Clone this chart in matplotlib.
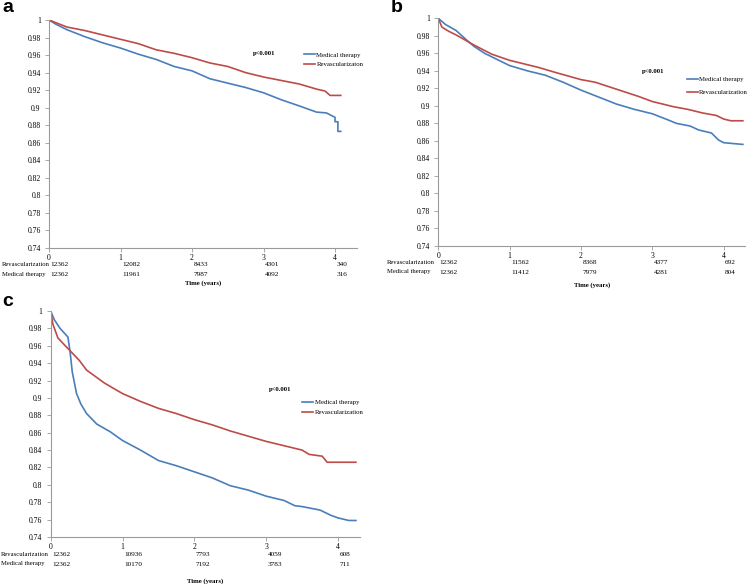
import matplotlib
matplotlib.use("Agg")
import matplotlib.pyplot as plt
from matplotlib.ticker import FuncFormatter

# ---------------- data ----------------
years = [0, 1, 2, 3, 4]
yticks = [0.74, 0.76, 0.78, 0.8, 0.82, 0.84, 0.86, 0.88, 0.9, 0.92, 0.94, 0.96, 0.98, 1.0]
series_names = ["Medical therapy", "Revascularization"]
legend_labels_a = ["Medical therapy", "Revascularizaton"]

a_t_med = [0, 0.1, 0.25, 0.5, 0.75, 1.0, 1.25, 1.5, 1.75, 2.0, 2.25, 2.5, 2.75, 3.0, 3.25, 3.5, 3.74, 3.88, 4.0, 4.0, 4.04, 4.04, 4.08]
a_s_med = [1.0, 0.995, 0.989, 0.981, 0.974, 0.968, 0.961, 0.955, 0.947, 0.942, 0.933, 0.928, 0.923, 0.917, 0.909, 0.902, 0.895, 0.894, 0.889, 0.884, 0.884, 0.873, 0.873]
a_t_rev = [0, 0.25, 0.5, 0.75, 1.0, 1.25, 1.5, 1.75, 2.0, 2.25, 2.5, 2.75, 3.0, 3.25, 3.5, 3.75, 3.86, 3.93, 4.08]
a_s_rev = [1.0, 0.992, 0.988, 0.983, 0.978, 0.973, 0.966, 0.962, 0.957, 0.951, 0.947, 0.940, 0.935, 0.931, 0.927, 0.921, 0.919, 0.914, 0.914]
a_risk_rev = [12362, 12082, 8433, 4301, 340]
a_risk_med = [12362, 11961, 7987, 4092, 316]

b_t_med = [0, 0.1, 0.25, 0.4, 0.5, 0.65, 0.8, 1.0, 1.25, 1.5, 1.75, 2.0, 2.25, 2.5, 2.75, 3.0, 3.22, 3.34, 3.53, 3.65, 3.83, 3.93, 4.0, 4.13, 4.27]
b_s_med = [1.0, 0.993, 0.986, 0.975, 0.968, 0.960, 0.954, 0.946, 0.940, 0.935, 0.927, 0.918, 0.910, 0.902, 0.896, 0.891, 0.884, 0.880, 0.877, 0.8725, 0.869, 0.861, 0.858, 0.857, 0.856]
b_t_rev = [0, 0.05, 0.15, 0.25, 0.5, 0.75, 1.0, 1.4, 1.65, 2.0, 2.2, 2.5, 2.8, 3.0, 3.3, 3.5, 3.7, 3.9, 4.0, 4.1, 4.27]
b_s_rev = [1.0, 0.990, 0.985, 0.981, 0.9695, 0.959, 0.952, 0.944, 0.938, 0.930, 0.927, 0.919, 0.911, 0.905, 0.899, 0.896, 0.892, 0.889, 0.885, 0.883, 0.883]
b_risk_rev = [12362, 11562, 8368, 4377, 692]
b_risk_med = [12362, 11412, 7979, 4281, 804]

c_t_med = [0, 0.05, 0.13, 0.24, 0.27, 0.3, 0.36, 0.42, 0.5, 0.64, 0.83, 1.0, 1.25, 1.5, 1.75, 2.0, 2.25, 2.5, 2.75, 3.0, 3.25, 3.4, 3.5, 3.75, 3.9, 4.0, 4.15, 4.25]
c_s_med = [1.0, 0.99, 0.98, 0.97, 0.953, 0.93, 0.905, 0.893, 0.882, 0.87, 0.861, 0.851, 0.84, 0.828, 0.822, 0.815, 0.808, 0.799, 0.794, 0.787, 0.782, 0.776, 0.775, 0.771, 0.765, 0.762, 0.759, 0.759]
c_t_rev = [0, 0.03, 0.1, 0.18, 0.25, 0.4, 0.5, 0.75, 1.0, 1.25, 1.5, 1.75, 2.0, 2.25, 2.5, 2.75, 3.0, 3.25, 3.4, 3.5, 3.6, 3.78, 3.85, 4.25]
c_s_rev = [1.0, 0.985, 0.969, 0.962, 0.956, 0.943, 0.932, 0.917, 0.905, 0.896, 0.888, 0.882, 0.875, 0.869, 0.862, 0.856, 0.850, 0.845, 0.842, 0.840, 0.835, 0.833, 0.826, 0.826]
c_risk_rev = [12362, 10936, 7793, 4059, 608]
c_risk_med = [12362, 10170, 7192, 3783, 711]

p_text = "p<0.001"
xlabel = "Time (years)"

BLUE = "#4a7ebb"
RED = "#be4b48"
SERIF = ["Liberation Serif", "DejaVu Serif"]
SANS = ["Liberation Sans", "DejaVu Sans"]
FS_TICK = 5.5
FS_NUM = 5.2
FS_ROW = 4.8
FS_LEG = 4.9
FS_BOLD = 4.8

W, H = 748, 584
fig = plt.figure(figsize=(W / 100, H / 100), dpi=100)


def px_axes(l, r, top, bottom):
    return fig.add_axes([l / W, 1 - bottom / H, (r - l) / W, (bottom - top) / H])


def draw_panel(ax, tm, sm, tr, sr, risk_rev, risk_med, leg_labels, leg_pos, lspace,
               p_pos, row_off, xlabel_off):
    ax.plot(tm, sm, color=BLUE, lw=1.2, label=leg_labels[0])
    ax.plot(tr, sr, color=RED, lw=1.2, label=leg_labels[1])
    ax.set_xlim(0, 4.3)
    ax.set_ylim(0.74, 1.0)
    ax.set_xticks(years)
    ax.set_yticks(yticks)
    ax.yaxis.set_major_formatter(FuncFormatter(lambda v, p: "%g" % round(v, 2)))
    for s in ["top", "right"]:
        ax.spines[s].set_visible(False)
    for s in ["left", "bottom"]:
        ax.spines[s].set_color("#9a9a9a")
        ax.spines[s].set_linewidth(0.8)
    ax.tick_params(axis="both", direction="out", length=3, width=0.6, color="#9a9a9a",
                   labelsize=FS_TICK)
    ax.tick_params(axis="x", pad=1)
    ax.tick_params(axis="y", pad=3)
    for lab in ax.get_xticklabels() + ax.get_yticklabels():
        lab.set_family(SERIF)
    ax.legend(loc="upper left", bbox_to_anchor=leg_pos, frameon=False,
              prop={"family": SERIF, "size": FS_LEG}, handlelength=1.6,
              handletextpad=0.2, labelspacing=lspace, borderaxespad=0, borderpad=0)
    ax.text(p_pos[0], p_pos[1], p_text, transform=ax.transAxes, ha="center", va="center",
            fontsize=FS_BOLD, fontweight="bold", family=SERIF)
    # risk table
    for vals, off in [(risk_rev, row_off[0]), (risk_med, row_off[1])]:
        for x, v in zip(years, vals):
            ax.annotate(str(v), xy=(x, 0), xycoords=("data", "axes fraction"),
                        xytext=(1.5, -off), textcoords="offset pixels",
                        ha="left", va="center", fontsize=FS_NUM, family=SERIF)
    ax.annotate(xlabel, xy=(0.5, 0), xycoords="axes fraction", xytext=(0, -xlabel_off),
                textcoords="offset pixels", ha="center", va="center",
                fontsize=FS_BOLD, fontweight="bold", family=SERIF)
    return ax


def row_labels(x, y1, y2):
    fig.text(x / W, 1 - y1 / H, series_names[1], ha="left", va="center", fontsize=FS_ROW, family=SERIF)
    fig.text(x / W, 1 - y2 / H, series_names[0], ha="left", va="center", fontsize=FS_ROW, family=SERIF)


# Panel a
ax_a = px_axes(49, 356.5, 20, 248)
draw_panel(ax_a, a_t_med, a_s_med, a_t_rev, a_s_rev, a_risk_rev, a_risk_med,
           legend_labels_a, (0.83, 0.86), 0.55, (0.70, 0.855), (17, 27), 35)
row_labels(2, 265, 275)

# Panel b
ax_b = px_axes(438.3, 745, 18.3, 246)
draw_panel(ax_b, b_t_med, b_s_med, b_t_rev, b_s_rev, b_risk_rev, b_risk_med,
           series_names, (0.81, 0.745), 1.1, (0.70, 0.765), (16, 26), 39)
row_labels(387, 262, 272)

# Panel c
ax_c = px_axes(50.7, 359.5, 311, 537)
draw_panel(ax_c, c_t_med, c_s_med, c_t_rev, c_s_rev, c_risk_rev, c_risk_med,
           series_names, (0.815, 0.61), 0.65, (0.743, 0.652), (17, 27), 44)
row_labels(1, 554, 564)

# panel letters
for lbl, x, y in [("a", 2, 8), ("b", 391, 7), ("c", 2, 302)]:
    fig.text(x / W, 1 - y / H, lbl, ha="left", va="center", fontsize=14,
             fontweight="bold", family=SANS)

fig.savefig("out.png", dpi=100)
